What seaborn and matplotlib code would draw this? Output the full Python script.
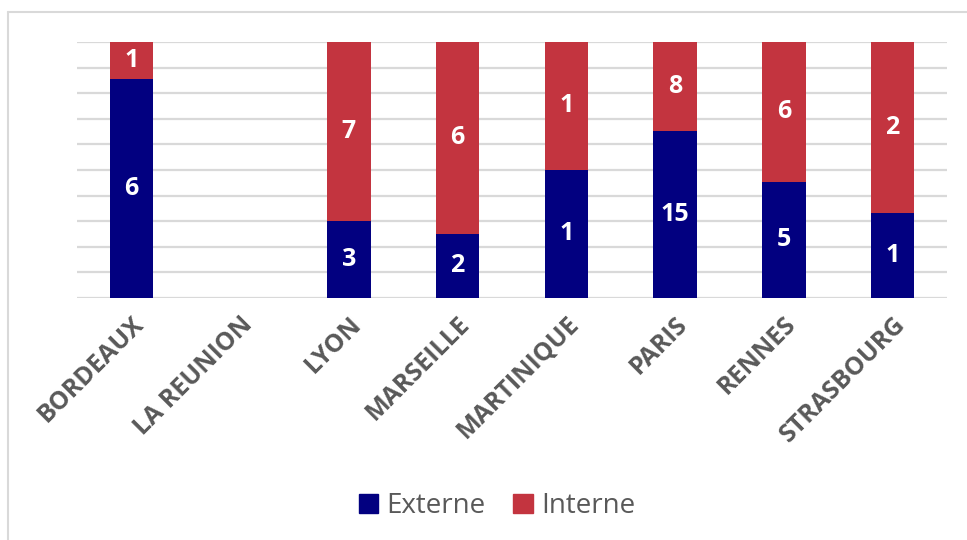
import matplotlib
matplotlib.use("Agg")
import matplotlib.pyplot as plt
import seaborn as sns
import pandas as pd
import numpy as np
from matplotlib.patches import Patch
from matplotlib.lines import Line2D

categories = ["BORDEAUX", "LA REUNION", "LYON", "MARSEILLE", "MARTINIQUE", "PARIS", "RENNES", "STRASBOURG"]
externe = [6, 0, 3, 2, 1, 15, 5, 1]
interne = [1, 0, 7, 6, 1, 8, 6, 2]
series_names = ["Externe", "Interne"]

BLUE = "#020080"
RED = "#C3343F"
GRID = "#D9D9D9"
TEXT = "#595959"

sns.set_theme(style="white")
plt.rcParams["font.family"] = ["Open Sans", "DejaVu Sans"]

tot = np.array(externe) + np.array(interne)
frac_top = np.where(tot > 0, 1.0, 0.0)
frac_ext = np.where(tot > 0, np.array(externe) / np.where(tot > 0, tot, 1), 0.0)
df = pd.DataFrame({"cat": categories, "top": frac_top, "ext": frac_ext,
                   "nE": externe, "nI": interne})

fig = plt.figure(figsize=(9.67, 5.40), dpi=100)
ax = fig.add_axes([77/967, 1-298/540, (947-77)/967, (298-42)/540])

sns.barplot(data=df, x="cat", y="top", color=RED, width=0.4, ax=ax, saturation=1,
            linewidth=0, zorder=3)
sns.barplot(data=df, x="cat", y="ext", color=BLUE, width=0.4, ax=ax, saturation=1,
            linewidth=0, zorder=4)

ax.set_ylim(0, 1)
ax.set_xlim(-0.5, len(categories) - 0.5)
ax.set_yticks(np.arange(0, 1.01, 0.1))
ax.set_yticklabels([])
ax.tick_params(axis="y", length=0)
ax.tick_params(axis="x", length=0, pad=10)
ax.yaxis.grid(True, color=GRID, linewidth=1.6, zorder=0)
ax.set_axisbelow(True)
for s in ax.spines.values():
    s.set_visible(False)
ax.set_xlabel("")
ax.set_ylabel("")
ax.set_xticks(range(len(categories)))
ax.set_xticklabels(categories, rotation=45, ha="right", rotation_mode="anchor",
                   fontsize=18, fontweight="bold", color=TEXT)

for i, row in df.iterrows():
    if row["nE"] + row["nI"] == 0:
        continue
    ax.text(i, row["ext"] / 2, str(row["nE"]), ha="center", va="center",
            color="white", fontsize=18, fontweight="bold", zorder=5)
    ax.text(i, row["ext"] + (1 - row["ext"]) / 2, str(row["nI"]), ha="center", va="center",
            color="white", fontsize=18, fontweight="bold", zorder=5)

handles = [Patch(facecolor=BLUE, edgecolor=BLUE), Patch(facecolor=RED, edgecolor=RED)]
fig.legend(handles, series_names, loc="center", bbox_to_anchor=(497/967, 1-506/540), ncol=2,
           frameon=False, fontsize=20, labelcolor=TEXT, handlelength=0.7, handleheight=0.7,
           handletextpad=0.3, columnspacing=1.0)

fig.add_artist(Line2D([8/967, 1], [1-12/540, 1-12/540], color=GRID, linewidth=1.5, transform=fig.transFigure))
fig.add_artist(Line2D([8/967, 8/967], [0, 1-12/540], color=GRID, linewidth=1.5, transform=fig.transFigure))

fig.savefig("out.png", dpi=100, facecolor="white")
